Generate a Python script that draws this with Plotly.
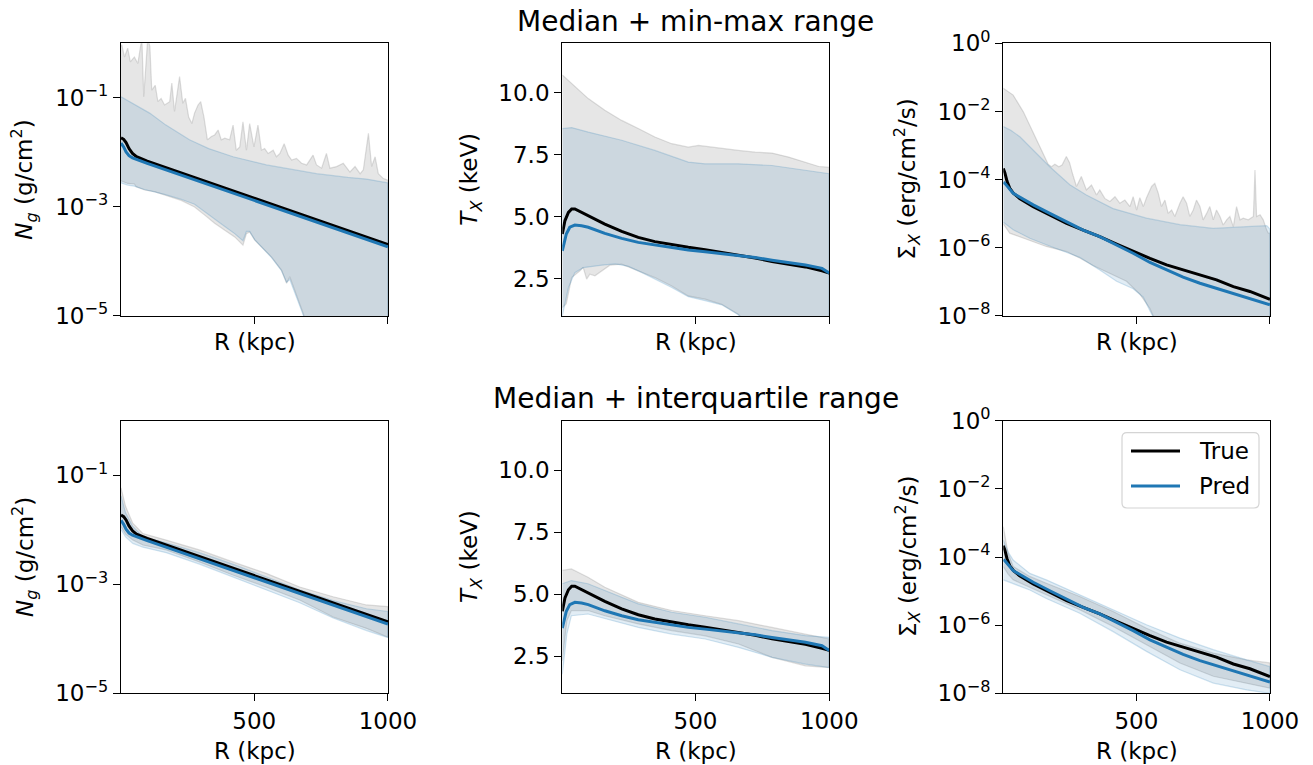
import numpy as np
import plotly.graph_objects as go

W, H = 1313, 765

# ------------------------------------------------------------------ data
# Gas column density N_g : values stored as log10(g/cm^2)
ng_med_r = [2, 12, 21, 32, 45, 60, 100, 200, 300, 400, 500, 600, 700, 800, 900, 1000]
ng_true_med = [-1.73, -1.76, -1.82, -1.93, -2.02, -2.08, -2.16, -2.33, -2.50, -2.67, -2.84,
               -3.01, -3.18, -3.35, -3.52, -3.69]
ng_pred_med = [-1.83, -1.90, -1.99, -2.06, -2.10, -2.13, -2.20, -2.37, -2.54, -2.71, -2.88,
               -3.05, -3.22, -3.39, -3.56, -3.73]

ng_true_max_r = [2, 5, 15, 27, 37, 52, 65, 75, 80, 87, 97, 102, 110, 117, 130, 140, 152, 165,
                 184, 192, 202, 221, 233, 243, 255, 267, 277, 290, 300, 312, 325, 340, 352,
                 365, 377, 390, 408, 421, 433, 446, 458, 471, 483, 499, 514, 527, 539, 552,
                 571, 583, 596, 612, 627, 640, 658, 677, 696, 720, 733, 752, 770, 783, 808,
                 833, 858, 877, 896, 908, 927, 939, 952, 964, 983, 1000]
ng_true_max = [-0.05, -0.03, -0.25, -0.09, -0.34, -0.25, -0.37, -0.06, 0.10, -0.98, -0.12,
               0.10, -0.06, -0.86, -0.77, -1.07, -1.01, -1.13, -1.07, -0.73, -1.25, -0.61,
               -1.10, -1.01, -1.35, -1.47, -1.28, -1.13, -1.07, -1.35, -1.77, -1.71, -1.68,
               -1.59, -1.77, -1.74, -1.77, -1.50, -1.96, -1.90, -1.44, -1.96, -1.47, -1.90,
               -1.50, -1.96, -1.93, -2.02, -1.96, -2.08, -2.02, -1.84, -2.05, -2.14, -2.11,
               -2.20, -2.23, -2.05, -2.23, -2.29, -2.02, -2.29, -2.26, -2.20, -2.36, -2.26,
               -2.39, -2.32, -1.65, -2.26, -2.08, -2.39, -2.48, -2.51]
ng_pred_max_r = [2, 50, 109, 170, 258, 330, 421, 546, 650, 733, 850, 920, 1000]
ng_pred_max = [-0.98, -1.12, -1.28, -1.50, -1.77, -1.93, -2.08, -2.23, -2.32, -2.39, -2.46,
               -2.49, -2.56]
ng_true_min_r = [2, 27, 52, 59, 90, 127, 165, 227, 277, 315, 352, 390, 427, 458, 471, 483,
                 502, 527, 565, 602, 621, 633, 646, 665, 683, 700, 720, 1000]
ng_true_min = [-2.52, -2.57, -2.58, -2.63, -2.69, -2.72, -2.78, -2.88, -3.00, -3.15, -3.30,
               -3.43, -3.55, -3.70, -3.49, -3.46, -3.61, -3.73, -3.92, -4.16, -4.40, -4.28,
               -4.47, -4.71, -4.95, -5.25, -6.0, -6.0]
ng_pred_min_r = [2, 27, 52, 90, 165, 227, 277, 315, 352, 390, 427, 458, 471, 483, 502, 527,
                 565, 602, 621, 633, 646, 665, 683, 705, 720, 1000]
ng_pred_min = [-2.56, -2.60, -2.62, -2.68, -2.77, -2.86, -2.95, -3.08, -3.22, -3.36, -3.49,
               -3.62, -3.45, -3.45, -3.60, -3.74, -3.93, -4.17, -4.38, -4.33, -4.50, -4.74,
               -4.98, -5.30, -6.0, -6.0]

ng_q_r = [2, 19, 46, 84, 171, 295, 420, 545, 670, 795, 920, 1000]
ng_true_q75 = [-1.23, -1.57, -1.88, -2.07, -2.19, -2.37, -2.59, -2.80, -3.05, -3.23, -3.38, -3.41]
ng_pred_q75 = [-1.38, -1.69, -1.94, -2.13, -2.24, -2.42, -2.63, -2.86, -3.10, -3.30, -3.45, -3.50]
ng_true_q25 = [-1.94, -2.08, -2.19, -2.28, -2.37, -2.59, -2.83, -3.05, -3.29, -3.60, -3.81, -3.97]
ng_pred_q25 = [-2.00, -2.13, -2.25, -2.32, -2.42, -2.63, -2.87, -3.10, -3.34, -3.62, -3.85, -3.98]

# X-ray temperature T_X (keV)
tx_true_med_r = [2, 12, 25, 37, 49, 62, 99, 161, 224, 286, 348, 411, 473, 536, 598, 660, 723,
                 786, 848, 911, 973, 1000]
tx_true_med = [4.31, 4.85, 5.18, 5.32, 5.32, 5.25, 5.05, 4.71, 4.41, 4.17, 4.00, 3.87, 3.77,
               3.67, 3.56, 3.46, 3.34, 3.20, 3.09, 2.98, 2.82, 2.73]
tx_pred_med_r = [2, 17, 30, 49, 74, 99, 161, 224, 286, 348, 411, 473, 536, 598, 660, 723, 786,
                 848, 911, 973, 1000]
tx_pred_med = [3.63, 4.31, 4.58, 4.67, 4.64, 4.58, 4.33, 4.13, 3.97, 3.86, 3.77, 3.66, 3.59,
               3.52, 3.43, 3.36, 3.25, 3.16, 3.06, 2.92, 2.73]

tx_true_max_r = [2, 37, 99, 161, 224, 286, 348, 411, 473, 511, 598, 660, 723, 786, 848, 911,
                 961, 1000]
tx_true_max = [10.72, 10.38, 9.77, 9.30, 8.89, 8.56, 8.22, 7.95, 7.81, 7.88, 7.75, 7.68, 7.61,
               7.57, 7.41, 7.21, 7.03, 7.00]
tx_pred_max_r = [2, 37, 99, 224, 348, 473, 536, 660, 786, 911, 1000]
tx_pred_max = [8.56, 8.60, 8.42, 8.09, 7.68, 7.21, 7.14, 7.14, 7.07, 6.87, 6.74]
tx_true_min_r = [2, 17, 37, 68, 80, 93, 105, 124, 149, 180, 224, 286, 348, 411, 473, 536, 598,
                 660, 685, 1000]
tx_true_min = [1.34, 1.50, 2.55, 2.82, 2.96, 2.49, 2.69, 2.62, 2.82, 3.05, 3.09, 2.82, 2.55,
               2.21, 1.81, 1.68, 1.47, 1.07, 0.80, 0.50]
tx_pred_min_r = [2, 25, 49, 80, 110, 150, 200, 250, 300, 348, 411, 473, 536, 598, 660, 680,
                 1000]
tx_pred_min = [1.00, 2.15, 2.75, 2.95, 3.00, 3.05, 3.10, 3.00, 2.75, 2.50, 2.15, 1.78, 1.62,
               1.45, 1.05, 0.80, 0.50]

tx_q_r = [2, 19, 36, 98, 161, 286, 411, 536, 661, 786, 911, 1000]
tx_true_q75 = [5.96, 6.00, 6.02, 5.68, 5.28, 4.67, 4.34, 4.13, 3.93, 3.66, 3.39, 3.19]
tx_pred_q75 = [5.42, 5.50, 5.55, 5.42, 5.15, 4.61, 4.27, 4.07, 3.80, 3.53, 3.33, 3.26]
tx_true_q25 = [2.31, 3.93, 4.34, 4.34, 4.13, 3.80, 3.53, 3.32, 2.99, 2.45, 2.11, 2.04]
tx_pred_q25 = [1.77, 3.39, 4.13, 4.20, 4.00, 3.66, 3.39, 3.19, 2.85, 2.45, 2.18, 2.04]

# X-ray surface brightness Sigma_X : values stored as log10(erg/cm^2/s)
sx_true_med_r = [2, 8, 16, 26, 40, 63, 114, 176, 239, 301, 363, 426, 488, 551, 613, 675, 738,
                 800, 863, 925, 1000]
sx_true_med = [-3.67, -3.80, -4.05, -4.25, -4.40, -4.55, -4.79, -5.04, -5.28, -5.48, -5.67,
               -5.89, -6.11, -6.31, -6.50, -6.65, -6.79, -6.94, -7.14, -7.28, -7.51]
sx_pred_med_r = [2, 8, 39, 114, 176, 239, 301, 363, 426, 488, 551, 613, 675, 738, 800, 863,
                 925, 1000]
sx_pred_med = [-4.08, -4.11, -4.40, -4.74, -4.99, -5.23, -5.48, -5.67, -5.91, -6.16, -6.43,
               -6.65, -6.86, -7.04, -7.19, -7.33, -7.50, -7.67]

sx_true_max_r = [2, 39, 77, 114, 151, 170, 182, 195, 210, 222, 238, 250, 262, 276, 294, 313,
                 332, 351, 363, 382, 401, 420, 438, 457, 476, 488, 501, 513, 526, 538, 557,
                 569, 582, 594, 607, 619, 632, 644, 663, 675, 688, 700, 713, 725, 738, 750,
                 763, 775, 788, 800, 813, 825, 838, 850, 863, 875, 888, 900, 919, 938, 944,
                 950, 963, 975, 988, 994, 1000]
sx_true_max = [-1.32, -1.52, -2.01, -2.64, -3.23, -3.55, -3.62, -3.55, -3.62, -3.57, -3.32,
               -3.50, -3.85, -4.20, -3.91, -4.30, -4.16, -4.45, -4.30, -4.55, -4.64, -4.50,
               -4.69, -4.60, -4.79, -4.50, -4.89, -4.53, -4.79, -4.53, -4.20, -4.11, -4.40,
               -4.79, -4.60, -4.99, -4.89, -5.08, -4.69, -4.50, -4.69, -5.08, -4.89, -4.60,
               -4.79, -5.18, -4.99, -4.79, -5.18, -4.89, -5.08, -5.33, -5.18, -5.08, -5.38,
               -4.79, -5.18, -5.13, -5.18, -5.08, -3.72, -5.08, -5.03, -5.18, -5.48, -5.57,
               -5.57]
sx_pred_max_r = [2, 30, 64, 114, 176, 251, 313, 413, 538, 663, 788, 913, 988, 1000]
sx_pred_max = [-2.44, -2.55, -2.74, -3.13, -3.62, -4.15, -4.45, -4.85, -5.13, -5.32, -5.43,
               -5.38, -5.35, -5.45]
sx_true_min_r = [2, 26, 51, 114, 163, 239, 288, 338, 400, 463, 513, 551, 563, 600, 1000]
sx_true_min = [-5.30, -5.57, -5.66, -5.82, -5.96, -6.11, -6.30, -6.52, -6.74, -6.98, -7.36,
               -7.78, -8.00, -9.00, -9.00]
sx_pred_min_r = [2, 39, 101, 163, 288, 363, 426, 488, 526, 551, 568, 600, 1000]
sx_pred_min = [-5.25, -5.47, -5.72, -5.91, -6.28, -6.65, -6.98, -7.20, -7.45, -7.85, -8.10,
               -9.00, -9.00]

sx_q_r = [2, 20, 39, 101, 163, 288, 413, 538, 663, 788, 913, 1000]
sx_true_q75 = [-3.11, -3.89, -4.28, -4.57, -4.77, -5.16, -5.60, -6.09, -6.53, -6.82, -7.02, -7.11]
sx_pred_q75 = [-3.50, -3.85, -4.09, -4.48, -4.67, -5.11, -5.55, -5.99, -6.38, -6.72, -7.02, -7.22]
sx_true_q25 = [-4.28, -4.50, -4.67, -4.87, -5.11, -5.55, -6.04, -6.58, -7.11, -7.50, -7.70, -7.85]
sx_pred_q25 = [-4.67, -4.72, -4.77, -4.97, -5.22, -5.65, -6.19, -6.77, -7.31, -7.70, -7.90, -8.00]

x_tickvals = [500, 1000]
x_ticktext = ["500", "1000"]
ng_tickvals = [1e-5, 1e-3, 1e-1]
ng_ticktext = ["10<sup>\u22125</sup>", "10<sup>\u22123</sup>", "10<sup>\u22121</sup>"]
tx_tickvals = [2.5, 5.0, 7.5, 10.0]
tx_ticktext = ["2.5", "5.0", "7.5", "10.0"]
sx_tickvals = [1e-8, 1e-6, 1e-4, 1e-2, 1e0]
sx_ticktext = ["10<sup>\u22128</sup>", "10<sup>\u22126</sup>", "10<sup>\u22124</sup>",
               "10<sup>\u22122</sup>", "10<sup>0</sup>"]

row_titles = ["Median + min-max range", "Median + interquartile range"]
x_label = "R (kpc)"
y_labels = ["<i>N</i><sub><i>g</i></sub> (g/cm<sup>2</sup>)",
            "<i>T</i><sub><i>X</i></sub> (keV)",
            "\u03a3<sub><i>X</i></sub> (erg/cm<sup>2</sup>/s)"]
legend_labels = ["True", "Pred"]

# ------------------------------------------------------------------ style
FONT = "DejaVu Sans"
BLACK = "#000000"
BLUE = "#1f77b4"
GREY_FILL = "rgba(128,128,128,0.2)"
GREY_EDGE = "rgba(128,128,128,0.25)"
BLUE_FILL = "rgba(31,119,180,0.13)"
BLUE_EDGE = "rgba(31,119,180,0.2)"
TICK_SIZE = 23
LABEL_SIZE = 23
TITLE_SIZE = 28

cols_px = [(121.0, 388.0), (562.3, 829.3), (1003.3, 1270.0)]
rows_px = [(43.3, 316.0), (420.7, 693.3)]


def px(x):
    return x / W


def py(y):
    return 1 - y / H


def tolin(vals, is_log):
    a = np.asarray(vals, dtype=float)
    return np.power(10.0, a) if is_log else a


def band(r_up, v_up, r_lo, v_lo, is_log, fill, edge, xa, ya):
    x = list(r_up) + list(r_lo)[::-1]
    y = list(tolin(v_up, is_log)) + list(tolin(v_lo, is_log))[::-1]
    return go.Scatter(x=x, y=y, mode="lines", fill="toself", fillcolor=fill,
                      line=dict(color=edge, width=1.2), xaxis=xa, yaxis=ya,
                      hoverinfo="skip", showlegend=False)


def med(r, v, is_log, color, xa, ya):
    return go.Scatter(x=r, y=tolin(v, is_log), mode="lines",
                      line=dict(color=color, width=3), xaxis=xa, yaxis=ya,
                      hoverinfo="skip", showlegend=False)


panels = [
    dict(log=True, rng=[-5.0005, 0.0005], tv=ng_tickvals, tt=ng_ticktext,
         med=(ng_med_r, ng_true_med, ng_med_r, ng_pred_med),
         top=(ng_true_max_r, ng_true_max, ng_true_min_r, ng_true_min,
              ng_pred_max_r, ng_pred_max, ng_pred_min_r, ng_pred_min),
         bot=(ng_q_r, ng_true_q75, ng_q_r, ng_true_q25,
              ng_q_r, ng_pred_q75, ng_q_r, ng_pred_q25)),
    dict(log=False, rng=[1.0, 12.0], tv=tx_tickvals, tt=tx_ticktext,
         med=(tx_true_med_r, tx_true_med, tx_pred_med_r, tx_pred_med),
         top=(tx_true_max_r, tx_true_max, tx_true_min_r, tx_true_min,
              tx_pred_max_r, tx_pred_max, tx_pred_min_r, tx_pred_min),
         bot=(tx_q_r, tx_true_q75, tx_q_r, tx_true_q25,
              tx_q_r, tx_pred_q75, tx_q_r, tx_pred_q25)),
    dict(log=True, rng=[-8.0005, 0.0005], tv=sx_tickvals, tt=sx_ticktext,
         med=(sx_true_med_r, sx_true_med, sx_pred_med_r, sx_pred_med),
         top=(sx_true_max_r, sx_true_max, sx_true_min_r, sx_true_min,
              sx_pred_max_r, sx_pred_max, sx_pred_min_r, sx_pred_min),
         bot=(sx_q_r, sx_true_q75, sx_q_r, sx_true_q25,
              sx_q_r, sx_pred_q75, sx_q_r, sx_pred_q25)),
]

fig = go.Figure()
layout = {}
annotations = []

idx = 0
for ri, (y0, y1) in enumerate(rows_px):
    for ci, (x0, x1) in enumerate(cols_px):
        idx += 1
        p = panels[ci]
        xa = "x" if idx == 1 else f"x{idx}"
        ya = "y" if idx == 1 else f"y{idx}"
        xkey = "xaxis" if idx == 1 else f"xaxis{idx}"
        ykey = "yaxis" if idx == 1 else f"yaxis{idx}"
        bands = p["top"] if ri == 0 else p["bot"]
        tr_up_r, tr_up, tr_lo_r, tr_lo, pr_up_r, pr_up, pr_lo_r, pr_lo = bands
        fig.add_trace(band(tr_up_r, tr_up, tr_lo_r, tr_lo, p["log"], GREY_FILL, GREY_EDGE, xa, ya))
        fig.add_trace(band(pr_up_r, pr_up, pr_lo_r, pr_lo, p["log"], BLUE_FILL, BLUE_EDGE, xa, ya))
        mr_t, mv_t, mr_p, mv_p = p["med"]
        fig.add_trace(med(mr_t, mv_t, p["log"], BLACK, xa, ya))
        fig.add_trace(med(mr_p, mv_p, p["log"], BLUE, xa, ya))

        layout[xkey] = dict(domain=[px(x0), px(x1)], anchor=ya, range=[2, 1000.2],
                            automargin=False,
                            tickmode="array", tickvals=x_tickvals, ticktext=x_ticktext,
                            showticklabels=(ri == 1), ticks="outside", ticklen=7,
                            tickwidth=1.3, tickcolor=BLACK, showline=True, linecolor=BLACK,
                            linewidth=1.3, mirror=True, showgrid=False, zeroline=False,
                            tickfont=dict(size=TICK_SIZE, color=BLACK, family=FONT))
        ycfg = dict(domain=[py(y1), py(y0)], anchor=xa, range=p["rng"], automargin=False,
                    tickmode="array", tickvals=p["tv"], ticktext=p["tt"],
                    ticks="outside", ticklen=7, tickwidth=1.3, tickcolor=BLACK,
                    showline=True, linecolor=BLACK, linewidth=1.3, mirror=True,
                    showgrid=False, zeroline=False,
                    tickfont=dict(size=TICK_SIZE, color=BLACK, family=FONT))
        if p["log"]:
            ycfg["type"] = "log"
        layout[ykey] = ycfg

        # axis titles
        annotations.append(dict(text=x_label, xref="paper", yref="paper",
                                x=px((x0 + x1) / 2), y=py(y1 + 26 if ri == 0 else y1 + 58),
                                xanchor="center", yanchor="middle", showarrow=False,
                                font=dict(size=LABEL_SIZE, color=BLACK, family=FONT)))
        ylab_x = [24, 471, 907][ci]
        annotations.append(dict(text=y_labels[ci], xref="paper", yref="paper",
                                x=px(ylab_x), y=py((y0 + y1) / 2), textangle=-90,
                                xanchor="center", yanchor="middle", showarrow=False,
                                font=dict(size=LABEL_SIZE, color=BLACK, family=FONT)))

# row titles
for ri, ty in enumerate([21, 398]):
    annotations.append(dict(text=row_titles[ri], xref="paper", yref="paper",
                            x=px(sum(cols_px[1]) / 2), y=py(ty), xanchor="center",
                            yanchor="middle", showarrow=False,
                            font=dict(size=TITLE_SIZE, color=BLACK, family=FONT)))

# legend (bottom-right panel)
lx0, ly0, lx1, ly1, rad = 1122.0, 432.7, 1259.0, 508.0, 5.0
path = (f"M {px(lx0 + rad)} {py(ly0)} L {px(lx1 - rad)} {py(ly0)} "
        f"Q {px(lx1)} {py(ly0)} {px(lx1)} {py(ly0 + rad)} "
        f"L {px(lx1)} {py(ly1 - rad)} Q {px(lx1)} {py(ly1)} {px(lx1 - rad)} {py(ly1)} "
        f"L {px(lx0 + rad)} {py(ly1)} Q {px(lx0)} {py(ly1)} {px(lx0)} {py(ly1 - rad)} "
        f"L {px(lx0)} {py(ly0 + rad)} Q {px(lx0)} {py(ly0)} {px(lx0 + rad)} {py(ly0)} Z")
shapes = [dict(type="path", path=path, xref="paper", yref="paper",
               fillcolor="rgba(255,255,255,0.8)", line=dict(color="#d4d4d4", width=1.2))]
for k, (lab, col, yy) in enumerate(zip(legend_labels, [BLACK, BLUE], [451.0, 486.0])):
    shapes.append(dict(type="line", xref="paper", yref="paper", x0=px(1131), x1=px(1180),
                       y0=py(yy), y1=py(yy), line=dict(color=col, width=3)))
    annotations.append(dict(text=lab, xref="paper", yref="paper", x=px(1197), y=py(yy),
                            xanchor="left", yanchor="middle", showarrow=False,
                            font=dict(size=TICK_SIZE, color=BLACK, family=FONT)))

fig.update_layout(width=W, height=H, margin=dict(l=0, r=0, t=0, b=0, autoexpand=False),
                  paper_bgcolor="white", plot_bgcolor="rgba(0,0,0,0)",
                  showlegend=False, font=dict(family=FONT, color=BLACK),
                  annotations=annotations, shapes=shapes, **layout)

fig.write_html("out.html")
